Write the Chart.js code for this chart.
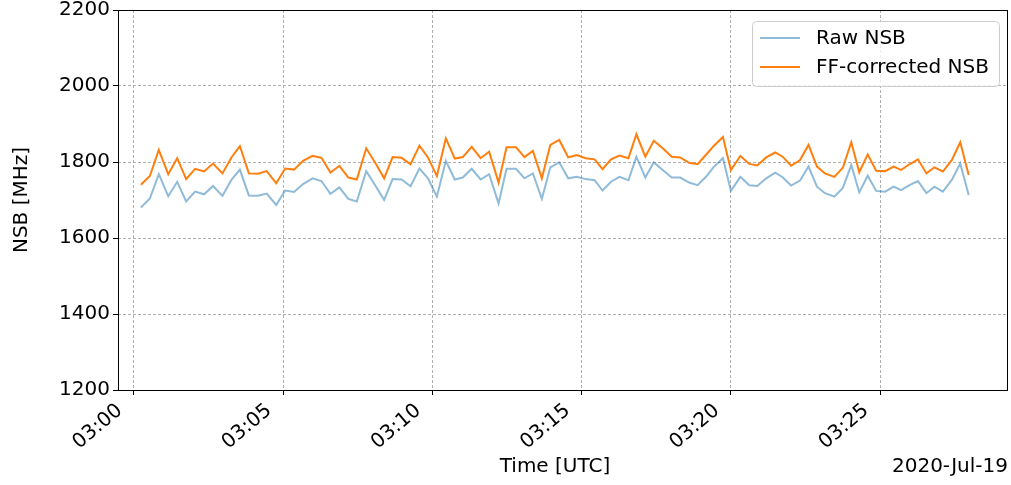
<!DOCTYPE html>
<html>
<head>
<meta charset="utf-8">
<script src="https://cdn.jsdelivr.net/npm/chart.js@4"></script>
<style>
  html, body { margin: 0; padding: 0; background: #fff; overflow: hidden; }
  canvas { display: block; }
</style>
</head>
<body>
<canvas id="c" width="1011" height="485"></canvas>
<script>
// Sample times, seconds after 03:00 UTC
const timeSec = [14,32,50,69,87,105,123,141,159,178,196,213,231,249,267,286,304,322,340,359,
  377,395,413,431,448,467,485,503,520,538,556,574,591,609,627,645,661,679,697,714,
  733,749,768,785,802,820,837,855,873,890,908,926,942,959,976,994,1010,1028,1045,1063,
  1081,1098,1116,1133,1150,1166,1184,1200,1219,1237,1253,1271,1289,1304,1321,1339,1356,1373,1389,1408,
  1425,1442,1458,1475,1492,1510,1527,1542,1559,1576,1593,1609,1626,1644,1661,1678];

// Night-sky background rate, MHz
const rawNSB = [1680,1704,1768,1710,1748,1696,1722,1715,1737,1711,1753,1780,1712,1711,1717,1687,1725,1721,1742,1757,
  1750,1716,1733,1703,1696,1776,1739,1700,1755,1754,1736,1783,1757,1709,1803,1754,1759,1782,1754,1768,
  1691,1782,1782,1757,1770,1703,1786,1799,1757,1761,1755,1752,1725,1748,1761,1752,1814,1759,1799,1779,
  1759,1759,1746,1739,1761,1788,1810,1724,1761,1739,1737,1757,1772,1760,1738,1751,1788,1735,1718,1709,
  1732,1792,1720,1764,1724,1722,1735,1726,1739,1750,1718,1735,1722,1753,1796,1713];

const ffNSB = [1740,1763,1832,1768,1810,1755,1782,1775,1796,1770,1812,1842,1770,1769,1776,1744,1783,1780,1803,1816,
  1811,1772,1790,1759,1754,1836,1798,1757,1813,1811,1794,1843,1812,1763,1862,1809,1813,1840,1810,1827,
  1746,1839,1839,1813,1829,1757,1845,1858,1812,1818,1810,1807,1781,1807,1817,1810,1873,1814,1856,1836,
  1814,1812,1798,1794,1819,1843,1866,1779,1816,1795,1791,1812,1825,1814,1790,1805,1845,1788,1770,1761,
  1785,1852,1773,1820,1777,1776,1788,1779,1794,1807,1770,1786,1775,1805,1852,1766];

const seriesNames = ['Raw NSB', 'FF-corrected NSB'];
const xTickSec = [0, 300, 600, 900, 1200, 1500];
const xTickLabels = ['03:00', '03:05', '03:10', '03:15', '03:20', '03:25'];
const yTicks = [1200, 1400, 1600, 1800, 2000, 2200];
const xTitle = 'Time [UTC]';
const yTitle = 'NSB [MHz]';
const dateText = '2020-Jul-19';

const FONT = 'DejaVu Sans';
const FSIZE = 20;
const fontSpec = { family: FONT, size: FSIZE, lineHeight: 1.2 };

const toPoints = vals => vals.map((v, i) => ({ x: timeSec[i], y: v }));

// Axes frame drawn over the plot
const framePlugin = {
  id: 'frame',
  afterDatasetsDraw(chart) {
    const { ctx, chartArea: a } = chart;
    ctx.save();
    ctx.strokeStyle = '#000';
    ctx.lineWidth = 1;
    ctx.strokeRect(a.left + 0.5, a.top + 0.5, a.right - a.left - 1, a.bottom - a.top);
    ctx.restore();
  }
};

// Boxed legend in the upper right, x-axis caption and the date stamp
const legendPlugin = {
  id: 'boxLegend',
  afterDraw(chart) {
    const { ctx, chartArea: a } = chart;
    ctx.save();
    const bx = 752.5, by = 21.5, bw = 247, bh = 65, r = 4;
    ctx.beginPath();
    ctx.roundRect(bx, by, bw, bh, r);
    ctx.fillStyle = 'rgba(255,255,255,0.8)';
    ctx.fill();
    ctx.strokeStyle = '#cccccc';
    ctx.lineWidth = 1;
    ctx.stroke();
    ctx.font = FSIZE + 'px "' + FONT + '"';
    ctx.textBaseline = 'middle';
    ctx.textAlign = 'left';
    chart.data.datasets.forEach((ds, i) => {
      const y = 38 + i * 29;
      ctx.beginPath();
      ctx.moveTo(760, y);
      ctx.lineTo(800, y);
      ctx.strokeStyle = ds.borderColor;
      ctx.lineWidth = 2;
      ctx.stroke();
      ctx.fillStyle = '#000';
      ctx.fillText(ds.label, 816, y + 1);
    });
    ctx.fillStyle = '#000';
    ctx.textAlign = 'center';
    ctx.fillText(xTitle, 555, 467);
    ctx.textAlign = 'right';
    ctx.fillText(dateText, a.right, 467);
    ctx.restore();
  }
};

new Chart(document.getElementById('c'), {
  type: 'line',
  data: {
    datasets: [
      { label: seriesNames[0], data: toPoints(rawNSB), borderColor: 'rgba(31,119,180,0.5)',
        borderWidth: 2, pointRadius: 0, tension: 0, fill: false },
      { label: seriesNames[1], data: toPoints(ffNSB), borderColor: '#ff7f0e',
        borderWidth: 2, pointRadius: 0, tension: 0, fill: false }
    ]
  },
  options: {
    responsive: false,
    animation: false,
    devicePixelRatio: 1,
    layout: { padding: { top: 10, right: 3, left: 0, bottom: 0 } },
    plugins: { legend: { display: false }, tooltip: { enabled: false } },
    scales: {
      x: {
        type: 'linear',
        min: -32,
        max: 1757,
        afterBuildTicks: s => { s.ticks = xTickSec.map(v => ({ value: v })); },
        afterFit: s => { s.height = 95; s.paddingLeft = 0; s.paddingRight = 0; },
        ticks: {
          autoSkip: false, minRotation: 40, maxRotation: 40, padding: 4, labelOffset: -14,
          color: '#000', font: fontSpec,
          callback: (v, i) => xTickLabels[i]
        },
        grid: { color: '#b0b0b0', lineWidth: 1, tickLength: 5, tickColor: '#000', tickWidth: 1 },
        border: { display: false, dash: [3, 2] }
      },
      y: {
        min: 1200,
        max: 2200,
        afterBuildTicks: s => { s.ticks = yTicks.map(v => ({ value: v })); },
        afterFit: s => { s.width = 118; s.paddingTop = 0; s.paddingBottom = 0; },
        ticks: { padding: 3, color: '#000', font: fontSpec, callback: v => String(v) },
        grid: { color: '#b0b0b0', lineWidth: 1, tickLength: 5, tickColor: '#000', tickWidth: 1 },
        border: { display: false, dash: [3, 2] },
        title: { display: true, text: yTitle, color: '#000', font: fontSpec, padding: { top: 10, bottom: 0 } }
      }
    }
  },
  plugins: [framePlugin, legendPlugin]
});
</script>
</body>
</html>
